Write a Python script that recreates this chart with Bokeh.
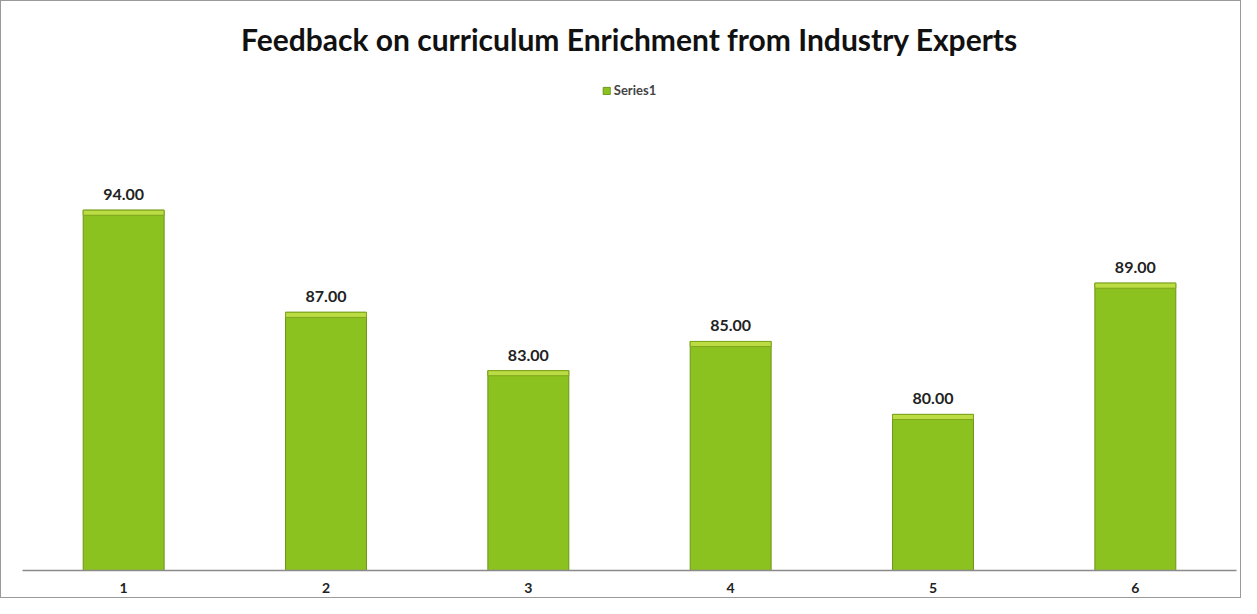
from bokeh.plotting import figure
from bokeh.models import ColumnDataSource, LabelSet, Legend, LegendItem, Title
from bokeh.embed import file_html
from bokeh.resources import INLINE
from bokeh.core.properties import value

categories = ["1", "2", "3", "4", "5", "6"]
values = [94.0, 87.0, 83.0, 85.0, 80.0, 89.0]
series_name = "Series1"
title_text = "Feedback on curriculum Enrichment from Industry Experts"

y_start = 69.3
labels = [f"{v:.2f}" for v in values]
cap_bottom = [v - 0.35 for v in values]
src = ColumnDataSource(dict(cat=categories, val=values, lab=labels, capb=cap_bottom))

p = figure(
    width=1241, height=598,
    x_range=categories, y_range=(y_start, 103.3),
    output_backend="svg", toolbar_location=None,
    min_border_left=21, min_border_right=6, min_border_top=72, min_border_bottom=29,
)
p.styles = {"border": "1px solid #9a9a9a", "box-sizing": "border-box"}
p.x_range.range_padding = 0

p.title = Title(text=title_text, align="center", text_font="Lato",
                text_font_size="30px", text_font_style="bold", text_color="#111111",
                standoff=35)

r = p.vbar(x="cat", top="val", bottom=y_start, width=0.4, source=src,
           fill_color="#8cc21f", line_color="#6a9615", line_width=1)
p.vbar(x="cat", top="val", bottom="capb", width=0.4, source=src,
       fill_color="#bcdc44", line_color="#7ea51c", line_width=1)

p.add_layout(LabelSet(x="cat", y="val", text="lab", source=src, y_offset=10,
                      text_align="center", text_font=value("Lato"),
                      text_font_size="16px", text_font_style="bold",
                      text_color="#222222"))

legend = Legend(items=[LegendItem(label=series_name, renderers=[r])],
                location="top_center", orientation="horizontal",
                label_text_font="Lato", label_text_font_size="13px",
                label_text_font_style="bold", glyph_width=9, glyph_height=9,
                label_standoff=3, border_line_color=None, background_fill_alpha=0,
                padding=2, margin=8, label_height=12)
p.add_layout(legend)

p.yaxis.visible = False
p.xgrid.grid_line_color = None
p.ygrid.grid_line_color = None
p.outline_line_color = None
p.xaxis.axis_line_color = "#8a8a8a"
p.xaxis.axis_line_width = 1.5
p.xaxis.major_tick_line_color = None
p.xaxis.minor_tick_line_color = None
p.xaxis.major_label_text_font = "Lato"
p.xaxis.major_label_text_font_size = "14px"
p.xaxis.major_label_text_font_style = "bold"
p.xaxis.major_label_text_color = "#222222"
p.xaxis.major_label_standoff = 6

open("out.html", "w").write(file_html(p, INLINE))
